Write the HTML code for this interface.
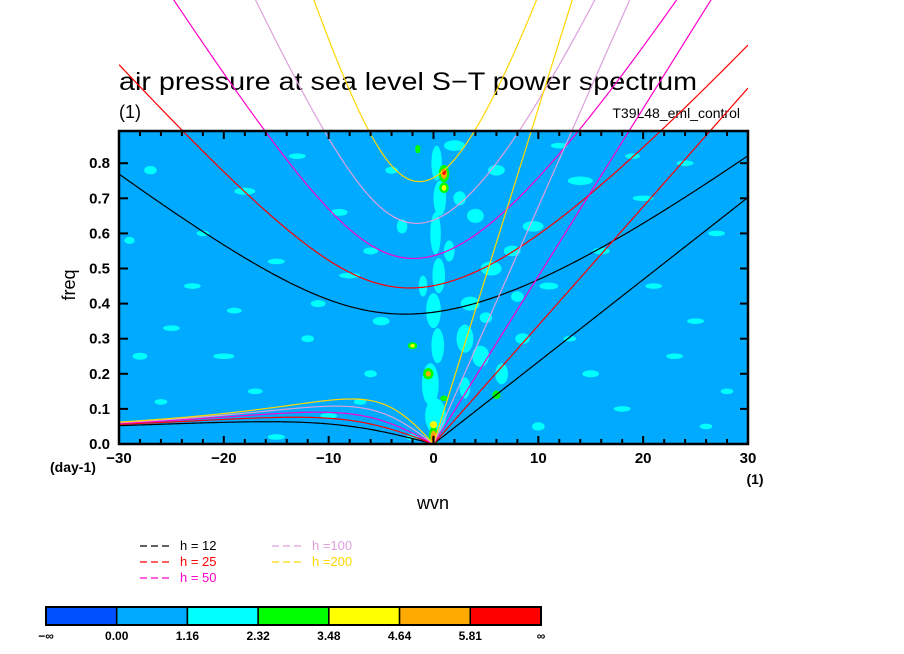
<!DOCTYPE html>
<html><head><meta charset="utf-8"><style>
body{margin:0;background:#fff}
svg{display:block;font-family:"Liberation Sans",sans-serif}
</style></head><body>
<svg id="chart" width="904" height="654" viewBox="0 0 904 654">
<defs>
<clipPath id="plotclip"><rect x="119" y="131" width="629" height="313"/></clipPath>
<clipPath id="curveclip"><rect x="119" y="0" width="629" height="444"/></clipPath>
</defs>
<text x="119" y="90" font-size="25" textLength="578" lengthAdjust="spacingAndGlyphs">air pressure at sea level S−T power spectrum</text>
<text x="119" y="118" font-size="18">(1)</text>
<text x="740" y="118" font-size="14" text-anchor="end">T39L48_eml_control</text>
<g id="plot">
<rect x="119" y="131" width="629" height="313" fill="#00aaff"/>
<g id="blobs" clip-path="url(#plotclip)"></g>
<g id="curves" clip-path="url(#curveclip)"></g>
<rect x="119" y="131" width="629" height="313" fill="none" stroke="#000" stroke-width="2.5"/>
<g id="ticks"></g>
</g>
<text x="75" y="285" font-size="18" text-anchor="middle" transform="rotate(-90 75 285)">freq</text>
<text x="433" y="509" font-size="18" text-anchor="middle">wvn</text>
<text x="50" y="472" font-size="14" font-weight="bold">(day-1)</text>
<text x="755" y="484" font-size="14" font-weight="bold" text-anchor="middle">(1)</text>
<g id="legend"></g>
<g id="colorbar"></g>
</svg>
<script>
const NS="http://www.w3.org/2000/svg";
const depths=[12,25,50,100,200];
const depthColors=["#000000","#ff0000","#ff00cc","#dda0dd","#ffd700"];
const depthLabels=["h = 12","h = 25","h = 50","h =100","h =200"];
const xTicks=[-30,-20,-10,0,10,20,30];
const yTicks=[0.0,0.1,0.2,0.3,0.4,0.5,0.6,0.7,0.8];
const cbColors=["#0050ff","#00aaff","#00ffff","#00ff00","#ffff00","#ffaa00","#ff0000"];
const cbLabels=["−∞","0.00","1.16","2.32","3.48","4.64","5.81","∞"];
// spectral features: [wvn, freq, halfwidth wvn, halfheight freq, level]
const blobs=[
[0.3,0.8,0.5,0.05,2],[0.6,0.7,0.6,0.05,2],[0.2,0.6,0.5,0.06,2],[0.5,0.48,0.6,0.05,2],[0,0.38,0.7,0.05,2],
[0.4,0.28,0.6,0.05,2],[-0.3,0.17,0.8,0.06,2],[0.2,0.08,1.0,0.05,2],[1.5,0.55,0.5,0.03,2],[-1,0.45,0.4,0.03,2],
[3,0.3,0.8,0.04,2],[4.5,0.25,0.8,0.03,2],[6.5,0.2,0.6,0.03,2],[3.5,0.4,0.9,0.02,2],[5.5,0.5,1.0,0.02,2],
[7.5,0.55,0.8,0.015,2],[9.5,0.62,1,0.015,2],[3,0.16,0.5,0.03,2],[8.5,0.3,0.7,0.015,2],[11,0.45,0.9,0.01,2],
[4,0.65,0.8,0.02,2],[6,0.78,0.8,0.015,2],[2.5,0.7,0.6,0.02,2],[8,0.42,0.6,0.015,2],[5,0.36,0.6,0.015,2],
[-8,0.48,1,0.008,2],[-15,0.52,0.8,0.008,2],[-20,0.25,1,0.008,2],[-25,0.33,0.8,0.008,2],[-12,0.3,0.6,0.01,2],
[-5,0.35,0.8,0.012,2],[-6,0.2,0.6,0.01,2],[15,0.2,0.8,0.01,2],[20,0.7,1,0.008,2],[25,0.35,0.8,0.008,2],
[-18,0.72,1,0.01,2],[-27,0.78,0.6,0.012,2],[14,0.75,1.2,0.012,2],[18,0.1,0.8,0.008,2],[-10,0.08,0.8,0.008,2],
[-3,0.62,0.5,0.02,2],[2,0.85,1,0.015,2],[24,0.8,0.8,0.008,2],[-22,0.6,0.6,0.008,2],
[-28,0.25,0.7,0.01,2],[-23,0.45,0.8,0.008,2],[-17,0.15,0.7,0.008,2],[-13,0.82,0.8,0.008,2],[-9,0.66,0.8,0.01,2],
[-7,0.12,0.6,0.008,2],[-26,0.12,0.6,0.008,2],[-19,0.38,0.7,0.008,2],[-11,0.4,0.7,0.01,2],[-4,0.78,0.6,0.01,2],
[12,0.85,0.8,0.008,2],[16,0.55,0.8,0.01,2],[21,0.45,0.8,0.008,2],[27,0.6,0.8,0.008,2],[23,0.25,0.8,0.008,2],
[28,0.15,0.6,0.008,2],[19,0.82,0.7,0.008,2],[13,0.3,0.6,0.008,2],[10,0.05,0.6,0.012,2],[26,0.05,0.6,0.008,2],
[-15,0.02,0.8,0.008,2],[-2,0.02,0.6,0.01,2],[-29,0.58,0.5,0.01,2],[-6,0.55,0.7,0.01,2],
[1,0.77,0.5,0.025,3],[1,0.77,0.3,0.015,5],[1,0.775,0.18,0.008,6],[1,0.73,0.45,0.015,3],[1,0.73,0.22,0.008,4],
[-2,0.28,0.45,0.01,3],[-2,0.28,0.22,0.005,4],[-0.5,0.2,0.5,0.016,3],[-0.5,0.2,0.25,0.008,5],
[1,0.13,0.35,0.008,3],[6,0.14,0.4,0.012,3],[0,0.02,0.45,0.03,3],[0,0.02,0.28,0.018,5],[0,0.015,0.14,0.01,6],
[0,0.055,0.35,0.01,4],[-1.5,0.84,0.25,0.012,3]
];
const sx=s=>119+(s+30)/60*629;
const sy=f=>444-f/0.1*35.1;
function mk(tag,attrs,parent){const e=document.createElementNS(NS,tag);for(const k in attrs)e.setAttribute(k,attrs[k]);parent.appendChild(e);return e;}
const gb=document.getElementById('blobs');
blobs.forEach(b=>{const e=mk('ellipse',{cx:sx(b[0]),cy:sy(b[1]),rx:b[2]/60*629,ry:b[3]/0.1*35.1,fill:cbColors[b[4]]},gb);

});
const beta=2.29e-11,a=6.371e6,g=9.81,cpd=86400/(2*Math.PI);
function roots(s,c){const k=s/a;const A=c*c*k*k+3*beta*c,B=beta*c*c*k;
const r=2*Math.sqrt(A/3);let arg=(3*B/(2*A))*Math.sqrt(3/A);arg=Math.max(-1,Math.min(1,arg));const th=Math.acos(arg)/3;
return [r*Math.cos(th)*cpd,r*Math.cos(th-2*Math.PI/3)*cpd];}
const gc=document.getElementById('curves');
depths.forEach((h,i)=>{const c=Math.sqrt(g*h);let ig=[],ro=[],kv=[];
for(let s=-30;s<=30.001;s+=0.25){const rr=roots(s,c);ig.push(sx(s)+','+sy(rr[0]));if(s<=0.001)ro.push(sx(s)+','+sy(Math.max(0,rr[1])));if(s>=0)kv.push(sx(s)+','+sy(c*(s/a)*cpd));}
[[ig,'ig-curve'],[ro,'rossby-curve'],[kv,'kelvin-line']].forEach(p=>{const e=mk('polyline',{points:p[0].join(' '),fill:'none',stroke:depthColors[i],'stroke-width':1.2},gc);

});});
const gt=document.getElementById('ticks');
for(let s=-30;s<=30;s+=2){const maj=s%10===0;const L=maj?8:5;
mk('line',{x1:sx(s),x2:sx(s),y1:444,y2:444-L,stroke:'#000','stroke-width':2},gt);
mk('line',{x1:sx(s),x2:sx(s),y1:131,y2:131+L,stroke:'#000','stroke-width':2},gt);}
xTicks.forEach(s=>{const t=mk('text',{x:sx(s),y:463,'font-size':15,'font-weight':'bold','text-anchor':'middle'},gt);t.textContent=s===0?'0':(s<0?'−'+(-s):String(s));

});
yTicks.forEach(f=>{mk('line',{x1:119,x2:128,y1:sy(f),y2:sy(f),stroke:'#000','stroke-width':2},gt);
mk('line',{x1:748,x2:740,y1:sy(f),y2:sy(f),stroke:'#000','stroke-width':2},gt);
const t=mk('text',{x:110,y:sy(f)+5,'font-size':15,'font-weight':'bold','text-anchor':'end'},gt);t.textContent=f.toFixed(1);

});
const gl=document.getElementById('legend');
depths.forEach((h,i)=>{const col=i<3?0:1,row=i<3?i:i-3;const x=140+col*132,y=550+row*16;
mk('line',{x1:x,x2:x+32,y1:y-4,y2:y-4,stroke:depthColors[i],'stroke-width':1.2,'stroke-dasharray':'7,4'},gl);
const t=mk('text',{x:x+40,y:y,'font-size':13,fill:depthColors[i]},gl);t.textContent=depthLabels[i];

});
const gcb=document.getElementById('colorbar');const w=(541-46)/cbColors.length;
cbColors.forEach((c,i)=>{const r=mk('rect',{x:46+i*w,y:607,width:w,height:18,fill:c,stroke:'#000','stroke-width':1.5},gcb);

});
mk('rect',{x:46,y:607,width:495,height:18,fill:'none',stroke:'#000','stroke-width':2},gcb);
cbLabels.forEach((l,i)=>{const t=mk('text',{x:46+i*w,y:640,'font-size':12,'font-weight':'bold','text-anchor':'middle'},gcb);t.textContent=l;

});
</script>
</body></html>
